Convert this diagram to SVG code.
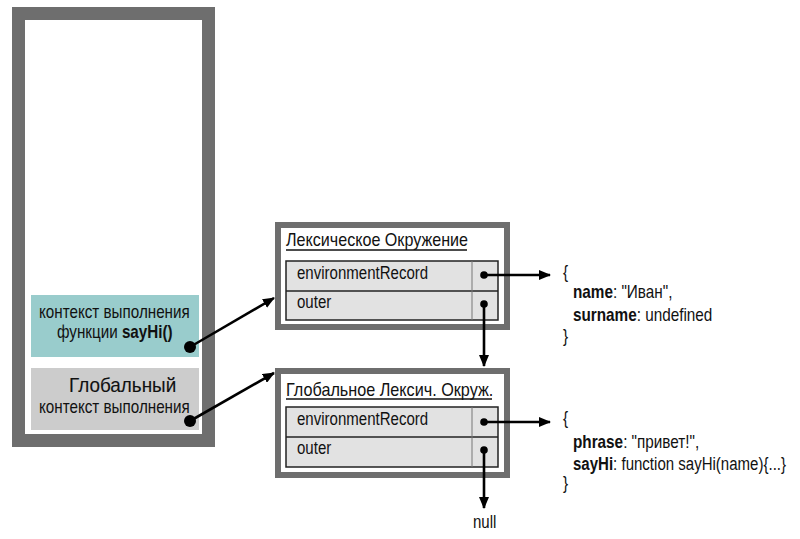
<svg xmlns="http://www.w3.org/2000/svg" width="800" height="539" viewBox="0 0 800 539">
<style>
text{font-family:"Liberation Sans",Arial,sans-serif;font-size:18px;fill:#111}
.frame{fill:#fff;stroke:#6e6e6e}
.tbl{fill:#e2e2e2;stroke:#222;stroke-width:1.5}
.div{stroke:#777;stroke-width:1}
.conn{stroke:#000;stroke-width:2.6;fill:none}
.b{font-weight:bold}
</style>
<defs>
<marker id="ah" viewBox="0 0 12 10" refX="11" refY="5" markerWidth="12" markerHeight="10" markerUnits="userSpaceOnUse" orient="auto">
<path d="M0,0 L12,5 L0,10 z" fill="#000"/>
</marker>
</defs>
<g id="stack">
<rect class="frame" x="18.5" y="13.5" width="190" height="427" stroke-width="13"/>
</g>
<g id="ctx-sayhi">
<rect x="31" y="295" width="168" height="62" fill="#99cccc"/>
<text transform="translate(39,318) scale(0.845,1)">контекст выполнения</text>
<text transform="translate(57,338) scale(0.845,1)">функции <tspan class="b">sayHi()</tspan></text>
</g>
<g id="ctx-global">
<rect x="31" y="368" width="168" height="62" fill="#cccccc"/>
<text transform="translate(69,392) scale(0.97,1)" style="font-size:19.5px;stroke:#111;stroke-width:0.12">Глобальный</text>
<text transform="translate(39,413) scale(0.845,1)">контекст выполнения</text>
</g>
<g id="le1">
<rect class="frame" x="278" y="225" width="229" height="102" stroke-width="6"/>
<text transform="translate(286,246) scale(0.895,1)">Лексическое Окружение</text>
<line x1="286" y1="250" x2="467" y2="250" stroke="#111" stroke-width="1.3"/>
<rect class="tbl" x="286" y="261" width="212" height="59"/>
<line x1="286" y1="291" x2="498" y2="291" stroke="#222" stroke-width="1.5"/>
<line class="div" x1="472" y1="261" x2="472" y2="320"/>
<text transform="translate(297,279) scale(0.835,1)">environmentRecord</text>
<text transform="translate(297,308) scale(0.835,1)">outer</text>
</g>
<g id="le2">
<rect class="frame" x="278" y="371" width="229" height="104" stroke-width="6"/>
<text transform="translate(286,396) scale(0.9,1)">Глобальное Лексич. Окруж.</text>
<line x1="286" y1="399" x2="492" y2="399" stroke="#111" stroke-width="1.3"/>
<rect class="tbl" x="286" y="407" width="212" height="60"/>
<line x1="286" y1="437" x2="498" y2="437" stroke="#222" stroke-width="1.5"/>
<line class="div" x1="472" y1="407" x2="472" y2="467"/>
<text transform="translate(297,425) scale(0.835,1)">environmentRecord</text>
<text transform="translate(297,454) scale(0.835,1)">outer</text>
</g>
<g id="obj1">
<text transform="translate(563,278) scale(0.85,1)">{</text>
<text transform="translate(573,298) scale(0.85,1)"><tspan class="b">name</tspan>: "Иван",</text>
<text transform="translate(573,321) scale(0.85,1)"><tspan class="b">surname</tspan>: undefined</text>
<text transform="translate(563,342) scale(0.85,1)">}</text>
</g>
<g id="obj2">
<text transform="translate(563,424) scale(0.85,1)">{</text>
<text transform="translate(573,448) scale(0.85,1)"><tspan class="b">phrase</tspan>: "привет!",</text>
<text transform="translate(573,470) scale(0.835,1)"><tspan class="b">sayHi</tspan>: function sayHi(name){...}</text>
<text transform="translate(563,489) scale(0.85,1)">}</text>
</g>
<g id="null">
<text transform="translate(473,528) scale(0.835,1)">null</text>
</g>
<g id="connectors">
<circle cx="190" cy="347" r="6"/>
<line class="conn" x1="190" y1="347" x2="274" y2="298" marker-end="url(#ah)"/>
<circle cx="190" cy="421" r="6"/>
<line class="conn" x1="190" y1="421" x2="274" y2="373" marker-end="url(#ah)"/>
<circle cx="484" cy="275" r="3.8"/>
<line class="conn" x1="484" y1="275" x2="550" y2="275" marker-end="url(#ah)"/>
<circle cx="484" cy="304" r="3.8"/>
<line class="conn" x1="484" y1="304" x2="484" y2="366" marker-end="url(#ah)"/>
<circle cx="484" cy="422" r="3.8"/>
<line class="conn" x1="484" y1="422" x2="550" y2="422" marker-end="url(#ah)"/>
<circle cx="484" cy="450" r="3.8"/>
<line class="conn" x1="484" y1="450" x2="484" y2="508" marker-end="url(#ah)"/>
</g>
</svg>
